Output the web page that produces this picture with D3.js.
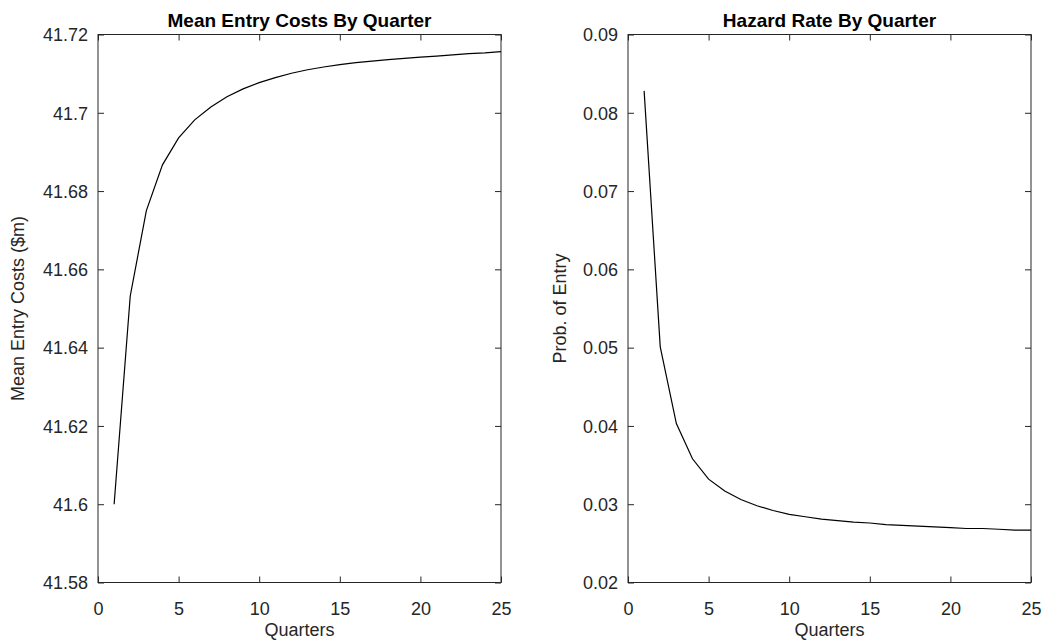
<!DOCTYPE html>
<html><head><meta charset="utf-8">
<script src="https://cdn.jsdelivr.net/npm/d3@7/dist/d3.min.js"></script>
<style>body{margin:0;background:#fff}svg{display:block}</style>
</head><body>
<svg id="chart" width="1043" height="642"></svg>
<script>
const quarters = d3.range(1, 26);
const meanEntryCosts = [41.6000, 41.6532, 41.6750, 41.6867, 41.6936, 41.6982, 41.7015, 41.7041, 41.7061, 41.7077,
  41.7090, 41.7101, 41.7110, 41.7117, 41.7123, 41.7128, 41.7132, 41.7136, 41.7139, 41.7142,
  41.7145, 41.7148, 41.7151, 41.7153, 41.7156];
const hazardRate = [0.0828, 0.0501, 0.0403, 0.0358, 0.0332, 0.0317, 0.0306, 0.0298, 0.0292, 0.0287,
  0.0284, 0.0281, 0.0279, 0.0277, 0.0276, 0.0274, 0.0273, 0.0272, 0.0271, 0.0270,
  0.0269, 0.0269, 0.0268, 0.0267, 0.0267];
const xTicks = [0, 5, 10, 15, 20, 25];
const yTicksLeft = [41.58, 41.6, 41.62, 41.64, 41.66, 41.68, 41.7, 41.72];
const yTicksRight = [0.02, 0.03, 0.04, 0.05, 0.06, 0.07, 0.08, 0.09];

const svg = d3.select("#chart");
const FONT = "'Liberation Sans', Arial, Helvetica, sans-serif";
const AX = "#262626";

const panels = [
  {x0: 98, x1: 501, title: "Mean Entry Costs By Quarter", ylabel: "Mean Entry Costs ($m)", ylabelX: 24,
   data: meanEntryCosts, yDom: [41.58, 41.72], yTicks: yTicksLeft, fmt: d => String(+d.toFixed(2))},
  {x0: 628, x1: 1031, title: "Hazard Rate By Quarter", ylabel: "Prob. of Entry", ylabelX: 566,
   data: hazardRate, yDom: [0.02, 0.09], yTicks: yTicksRight, fmt: d => d.toFixed(2)}
];
const yTop = 34.5, yBot = 582.5, tickLen = 6;

panels.forEach(p => {
  const x = d3.scaleLinear().domain([0, 25]).range([p.x0, p.x1]);
  const y = d3.scaleLinear().domain(p.yDom).range([yBot, yTop]);
  const g = svg.append("g");

  const styleAxis = (sel, labels) => {
    sel.select(".domain").remove();
    sel.selectAll("line").attr("stroke", AX).attr("stroke-width", 1);
    sel.selectAll("text").attr("fill", AX).style("font-family", FONT).style("font-size", labels ? "18px" : "0px");
  };

  const gb = g.append("g").attr("transform", `translate(0,${yBot})`)
    .call(d3.axisBottom(x).tickValues(xTicks).tickSizeInner(-tickLen).tickSizeOuter(0).tickFormat(d3.format("d")));
  styleAxis(gb, true);
  gb.selectAll("text").attr("y", 0).attr("dy", 32);
  const gt = g.append("g").attr("transform", `translate(0,${yTop})`)
    .call(d3.axisTop(x).tickValues(xTicks).tickSizeInner(-tickLen).tickSizeOuter(0).tickFormat(""));
  styleAxis(gt, false);
  const gl = g.append("g").attr("transform", `translate(${p.x0},0)`)
    .call(d3.axisLeft(y).tickValues(p.yTicks).tickSizeInner(-tickLen).tickSizeOuter(0).tickFormat(p.fmt));
  styleAxis(gl, true);
  gl.selectAll("text").attr("x", -10).attr("dy", "0.35em");
  const gr = g.append("g").attr("transform", `translate(${p.x1},0)`)
    .call(d3.axisRight(y).tickValues(p.yTicks).tickSizeInner(-tickLen).tickSizeOuter(0).tickFormat(""));
  styleAxis(gr, false);

  g.append("rect").attr("x", p.x0).attr("y", yTop).attr("width", p.x1 - p.x0).attr("height", yBot - yTop)
    .attr("fill", "none").attr("stroke", AX).attr("stroke-width", 1);

  const line = d3.line().x((d, i) => x(quarters[i])).y(d => y(d));
  g.append("path").datum(p.data).attr("d", line).attr("fill", "none").attr("stroke", "#000").attr("stroke-width", 1.2);

  g.append("text").attr("x", (p.x0 + p.x1) / 2).attr("y", 26.5).attr("text-anchor", "middle")
    .style("font-family", FONT).style("font-size", "19px").style("font-weight", "bold").attr("fill", "#000").text(p.title);
  g.append("text").attr("x", (p.x0 + p.x1) / 2).attr("y", 636).attr("text-anchor", "middle")
    .style("font-family", FONT).style("font-size", "18px").attr("fill", AX).text("Quarters");
  g.append("text").attr("transform", `translate(${p.ylabelX},${(yTop + yBot) / 2}) rotate(-90)`).attr("text-anchor", "middle")
    .style("font-family", FONT).style("font-size", "18px").attr("fill", AX).text(p.ylabel);
});
</script>
</body></html>
